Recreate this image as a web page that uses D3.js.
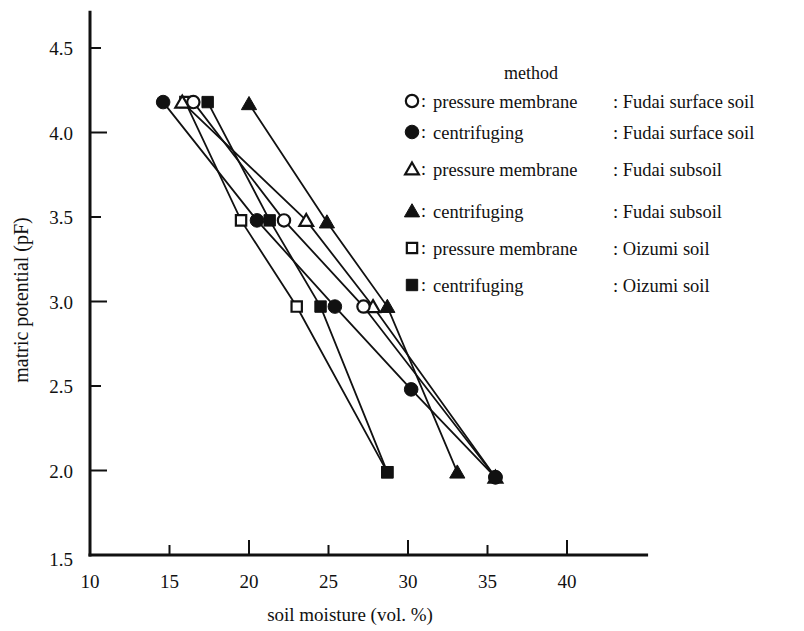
<!DOCTYPE html>
<html>
<head>
<meta charset="utf-8">
<script src="https://cdn.jsdelivr.net/npm/d3@7"></script>
<style>
  body { margin: 0; background: #fff; }
  text { font-family: "Liberation Serif", "Times New Roman", serif; fill: #111; }
</style>
</head>
<body>
<div id="chart"></div>
<script>
var width = 804
var height = 631

// axis ticks
var xTicks = [10, 15, 20, 25, 30, 35, 40]
var yTicks = [1.5, 2.0, 2.5, 3.0, 3.5, 4.0, 4.5]

// legend text
var methodNames = ["pressure membrane", "centrifuging", "pressure membrane", "centrifuging", "pressure membrane", "centrifuging"]
var soilNames = ["Fudai surface soil", "Fudai surface soil", "Fudai subsoil", "Fudai subsoil", "Oizumi soil", "Oizumi soil"]
var shapes = ["circle", "circle", "triangle", "triangle", "square", "square"]
var filled = [false, true, false, true, false, true]

// soil moisture (vol. %) and matric potential (pF) per series
var pmSurfaceX = [16.5, 22.2, 27.2, 35.5]
var pmSurfaceY = [4.18, 3.48, 2.97, 1.96]
var cSurfaceX = [14.6, 20.5, 25.4, 30.2, 35.5]
var cSurfaceY = [4.18, 3.48, 2.97, 2.48, 1.96]
var pmSubX = [15.8, 23.6, 27.8, 35.5]
var pmSubY = [4.18, 3.48, 2.97, 1.96]
var cSubX = [20.0, 24.9, 28.7, 33.1]
var cSubY = [4.17, 3.47, 2.97, 1.99]
var pmOizumiX = [16.0, 19.5, 23.0, 28.7]
var pmOizumiY = [4.18, 3.48, 2.97, 1.99]
var cOizumiX = [17.4, 21.3, 24.5, 28.7]
var cOizumiY = [4.18, 3.48, 2.97, 1.99]

var seriesX = [pmSurfaceX, cSurfaceX, pmSubX, cSubX, pmOizumiX, cOizumiX]
var seriesY = [pmSurfaceY, cSurfaceY, pmSubY, cSubY, pmOizumiY, cOizumiY]

var series = seriesX.map(function(xs, i) {
    return {
        shape: shapes[i],
        filled: filled[i],
        points: xs.map(function(v, j) { return { x: v, y: seriesY[i][j] } })
    }
})

var svg = d3.select("#chart").append("svg").attr("width", width).attr("height", height)

var x = d3.scaleLinear().domain([10, 40]).range([90, 567])
var y = d3.scaleLinear().domain([1.5, 4.5]).range([555, 48])

// axis lines
svg.append("line")
    .attr("x1", x(10)).attr("x2", x(10))
    .attr("y1", y(1.5) + 1.5).attr("y2", y(4.72))
    .attr("stroke", "#111").attr("stroke-width", 3)
svg.append("line")
    .attr("x1", x(10) - 1.5).attr("x2", x(45.1))
    .attr("y1", y(1.5)).attr("y2", y(1.5))
    .attr("stroke", "#111").attr("stroke-width", 3)

// y ticks (pointing inward), whole numbers longer
svg.selectAll(".ytick")
    .data(yTicks.filter(function(d) { return d > 1.5 }))
    .enter().append("line")
    .attr("class", "ytick")
    .attr("x1", x(10)).attr("x2", function(d, i) { return x(10) + (i % 2 == 0 ? 17 : 11) })
    .attr("y1", d => y(d)).attr("y2", d => y(d))
    .attr("stroke", "#111").attr("stroke-width", 2)

svg.selectAll(".ylabel")
    .data(yTicks)
    .enter().append("text")
    .attr("class", "ylabel")
    .attr("x", 73)
    .attr("y", d => y(d) + (d == 1.5 ? 11 : 7))
    .attr("text-anchor", "end")
    .attr("font-size", 19)
    .text(d => d.toFixed(1))

// x ticks (pointing up)
svg.selectAll(".xtick")
    .data(xTicks.filter(function(d) { return d > 10 }))
    .enter().append("line")
    .attr("class", "xtick")
    .attr("x1", d => x(d)).attr("x2", d => x(d))
    .attr("y1", y(1.5)).attr("y2", function(d, i) { return y(1.5) - (i % 2 == 1 ? 15 : 10) })
    .attr("stroke", "#111").attr("stroke-width", 2)

svg.selectAll(".xlabel")
    .data(xTicks)
    .enter().append("text")
    .attr("class", "xlabel")
    .attr("x", d => x(d))
    .attr("y", 588)
    .attr("text-anchor", "middle")
    .attr("font-size", 19)
    .text(d => d)

// axis titles
svg.append("text")
    .attr("x", 350).attr("y", 621)
    .attr("text-anchor", "middle")
    .attr("font-size", 19)
    .text("soil moisture (vol. %)")

svg.append("text")
    .attr("transform", "translate(28,300) rotate(-90)")
    .attr("text-anchor", "middle")
    .attr("font-size", 20)
    .text("matric potential (pF)")

// lines
var line = d3.line().x(d => x(d.x)).y(d => y(d.y))
svg.selectAll(".series-line")
    .data(series)
    .enter().append("path")
    .attr("class", "series-line")
    .attr("d", d => line(d.points))
    .attr("fill", "none")
    .attr("stroke", "#111")
    .attr("stroke-width", 1.8)

// markers
var symbolTypes = { circle: d3.symbolCircle, triangle: d3.symbolTriangle, square: d3.symbolSquare }
var symbolSizes = { circle: 145, triangle: 100, square: 130 }

function drawMarker(g, shape, isFilled, cx, cy) {
    var size = symbolSizes[shape] * (isFilled ? 1 : 0.82)
    g.append("path")
        .attr("d", d3.symbol().type(symbolTypes[shape]).size(size)())
        .attr("transform", "translate(" + cx + "," + (cy + (shape == "triangle" ? 1.5 : 0)) + ")")
        .attr("fill", isFilled ? "#111" : "#fff")
        .attr("stroke", "#111")
        .attr("stroke-width", isFilled ? 1 : 2.2)
}

var drawOrder = [4, 2, 0, 3, 5, 1]
drawOrder.forEach(function(i) {
    var s = series[i]
    var g = svg.append("g").attr("class", "markers")
    s.points.forEach(function(p) { drawMarker(g, s.shape, s.filled, x(p.x), y(p.y)) })
})

// legend
var legendRowY = [101, 132, 169, 211, 248, 285]
svg.append("text")
    .attr("x", 531).attr("y", 79)
    .attr("text-anchor", "middle")
    .attr("font-size", 18)
    .text("method")

var legend = svg.selectAll(".legend-row")
    .data(series)
    .enter().append("g")
    .attr("class", "legend-row")
    .attr("transform", (d, i) => "translate(0," + legendRowY[i] + ")")

legend.each(function(d, i) {
    drawMarker(d3.select(this), d.shape, d.filled, 412, 0)
})
legend.append("text")
    .attr("x", 421).attr("y", 6)
    .attr("font-size", 18)
    .text(":")
legend.append("text")
    .attr("x", 433).attr("y", 7)
    .attr("font-size", 18.5)
    .text((d, i) => methodNames[i])
legend.append("text")
    .attr("x", 613).attr("y", 7)
    .attr("font-size", 18.5)
    .text((d, i) => ": " + soilNames[i])
</script>
</body>
</html>
